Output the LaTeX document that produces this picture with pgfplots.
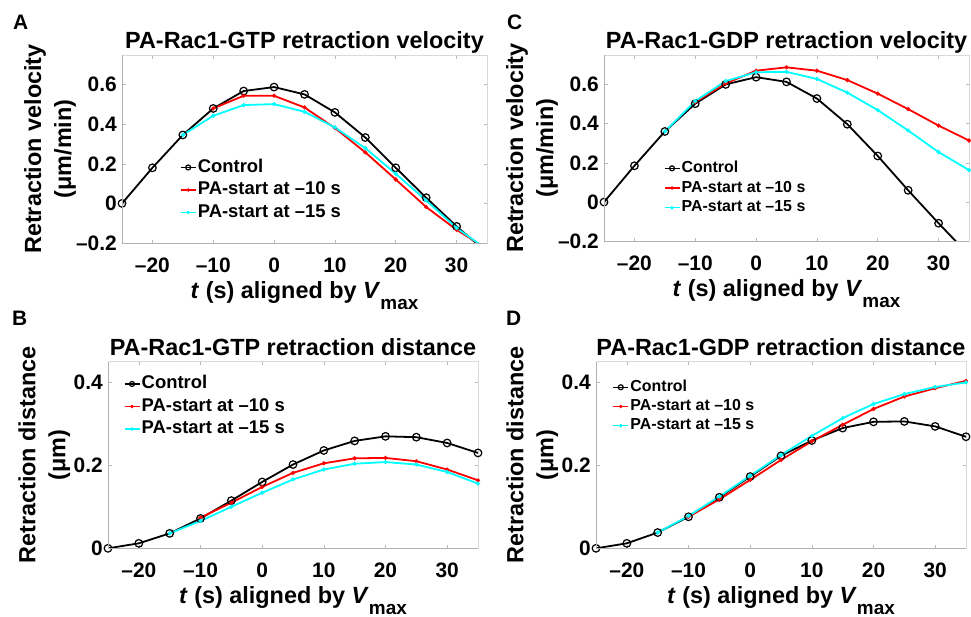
\documentclass[border=0pt]{standalone}
\usepackage{pgfplots}
\pgfplotsset{compat=1.18}
\usepackage{fontspec}
\setmainfont{Liberation Sans}
\definecolor{mred}{rgb}{1,0,0}
\definecolor{mcyan}{rgb}{0,1,1}
\pgfplotsset{
  every axis title shift=0pt,
  panel/.style={
    scale only axis,
    xmin=-25, xmax=35,
    xtick={-20,-10,0,10,20,30},
    xticklabels={–20,–10,0,10,20,30},
    axis line style={gray!30, line width=0.6bp},
    tick style={gray!55, line width=0.6bp},
    major tick length=3.5bp,
    tick align=inside,
    tick label style={font=\fontsize{21}{25}\selectfont\bfseries},
    xticklabel style={anchor=north, inner sep=0pt, text height=15bp, text depth=0pt, yshift=-14bp},
    yticklabel style={anchor=east, inner sep=0pt, xshift=-5bp},
    title style={at={(rel axis cs:0.5,1)}, anchor=base, yshift=6.5bp, inner sep=0pt, font=\fontsize{23.5}{28}\selectfont\bfseries},
    xlabel={\textit{t} (s) aligned by \textit{V}\raisebox{-11.5bp}{\fontsize{19}{20}\selectfont max}},
    xlabel style={at={(rel axis cs:0.5,0)}, anchor=base, yshift=-55bp, inner sep=0pt, font=\fontsize{23.5}{28}\selectfont\bfseries},
    after end axis/.code={\draw[gray!60, line width=0.6bp] (rel axis cs:0,1) -- (rel axis cs:0,0) -- (rel axis cs:1,0);},
    legend cell align=left,
    legend image code/.code={
      \draw[#1, mark indices={2}, line width=1.3bp] plot coordinates {(0bp,0bp) (7.5bp,0bp) (15bp,0bp)};
    },
  },
  ylab/.style={every axis y label/.style={at={(rel axis cs:#1,0.5)}, rotate=90, anchor=center, align=center, inner sep=0pt, font=\fontsize{23.5}{30}\selectfont\bfseries}},
  leg/.style n args={4}{legend style={at={(rel axis cs:#1,#2)}, anchor=west, draw=none, fill=none, inner sep=0pt, outer sep=0pt, row sep=#4, column sep=1.5bp, font=\fontsize{#3}{#3}\selectfont\bfseries, nodes={inner sep=0pt, text height=0.72*#3 bp, text depth=0.2*#3 bp}}},
  ctrl/.style={black, line width=1.8bp, mark=o, mark size=3.8bp, mark options={line width=1.2bp}, legend image post style={mark size=2.5bp}},
  redl/.style={mred, line width=1.8bp, mark=*, mark size=1bp},
  cyanl/.style={mcyan, line width=1.8bp, mark=*, mark size=1bp},
}
\begin{document}
\begin{tikzpicture}
\useasboundingbox (0,0) rectangle (971bp,-617bp);
% Panel A
\begin{axis}[panel, at={(122bp,-243bp)}, anchor=south west, width=365bp, height=188bp,
  ymin=-0.2, ymax=0.75, ytick={-0.2,0,0.2,0.4,0.6}, yticklabels={–0.2,0,0.2,0.4,0.6},
  title={PA-Rac1-GTP retraction velocity},
  ylab=-0.197, ylabel={Retraction velocity\\(μm/min)},
  leg={0.159}{0.282}{18.5}{5.5bp}]
\addplot[ctrl, mark indices={1,2,3,4,5,6,7,8,9,10,11,12}] coordinates {(-25,0) (-20,0.18) (-15,0.346) (-10,0.48) (-5,0.568) (0,0.588) (5,0.551) (10,0.46) (15,0.333) (20,0.18) (25,0.029) (30,-0.116) (35,-0.247)};
\addlegendentry{Control}
\addplot[redl, mark indices={1,2,3,4,5,6,7,8,9}] coordinates {(-10,0.48) (-5,0.544) (0,0.544) (5,0.485) (10,0.381) (15,0.258) (20,0.121) (25,-0.018) (30,-0.133) (35,-0.23)};
\addlegendentry{PA-start at –10 s}
\addplot[cyanl, mark indices={1,2,3,4,5,6,7,8,9,10}] coordinates {(-15,0.346) (-10,0.443) (-5,0.497) (0,0.502) (5,0.463) (10,0.384) (15,0.279) (20,0.15) (25,0.015) (30,-0.124) (35,-0.233)};
\addlegendentry{PA-start at –15 s}
\end{axis}
% Panel C
\begin{axis}[panel, at={(604bp,-241.3bp)}, anchor=south west, width=365bp, height=186.3bp,
  ymin=-0.2, ymax=0.75, ytick={-0.2,0,0.2,0.4,0.6}, yticklabels={–0.2,0,0.2,0.4,0.6},
  title={PA-Rac1-GDP retraction velocity},
  ylab=-0.197, ylabel={Retraction velocity\\(μm/min)},
  leg={0.164}{0.286}{16}{5bp}]
\addplot[ctrl, mark indices={1,2,3,4,5,6,7,8,9,10,11,12}] coordinates {(-25,0) (-20,0.185) (-15,0.36) (-10,0.502) (-5,0.6) (0,0.637) (5,0.613) (10,0.528) (15,0.397) (20,0.235) (25,0.06) (30,-0.108) (35,-0.27)};
\addlegendentry{Control}
\addplot[redl] coordinates {(-10,0.51) (-5,0.605) (0,0.67) (5,0.687) (10,0.67) (15,0.622) (20,0.553) (25,0.474) (30,0.39) (35,0.314)};
\addlegendentry{PA-start at –10 s}
\addplot[cyanl] coordinates {(-15,0.36) (-10,0.515) (-5,0.617) (0,0.662) (5,0.664) (10,0.628) (15,0.558) (20,0.469) (25,0.365) (30,0.255) (35,0.163)};
\addlegendentry{PA-start at –15 s}
\end{axis}
% Panel B
\begin{axis}[panel, at={(108bp,-548.3bp)}, anchor=south west, width=370bp, height=186.6bp,
  ymin=0, ymax=0.45, ytick={0,0.2,0.4}, yticklabels={0,0.2,0.4},
  title={PA-Rac1-GTP retraction distance},
  ylab=-0.172, ylabel={Retraction distance\\(μm)},
  leg={0.043}{0.76}{18.5}{5.5bp}]
\addplot[ctrl] coordinates {(-25,0) (-20,0.012) (-15,0.036) (-10,0.072) (-5,0.115) (0,0.16) (5,0.202) (10,0.236) (15,0.259) (20,0.27) (25,0.268) (30,0.254) (35,0.23)};
\addlegendentry{Control}
\addplot[redl] coordinates {(-10,0.074) (-5,0.11) (0,0.148) (5,0.182) (10,0.205) (15,0.217) (20,0.218) (25,0.21) (30,0.19) (35,0.164)};
\addlegendentry{PA-start at –10 s}
\addplot[cyanl] coordinates {(-15,0.036) (-10,0.066) (-5,0.1) (0,0.134) (5,0.166) (10,0.19) (15,0.204) (20,0.208) (25,0.202) (30,0.184) (35,0.156)};
\addlegendentry{PA-start at –15 s}
\end{axis}
% Panel D
\begin{axis}[panel, at={(596bp,-548.3bp)}, anchor=south west, width=370bp, height=186.6bp,
  ymin=0, ymax=0.45, ytick={0,0.2,0.4}, yticklabels={0,0.2,0.4},
  title={PA-Rac1-GDP retraction distance},
  ylab=-0.172, ylabel={Retraction distance\\(μm)},
  leg={0.045}{0.76}{16}{4.5bp}]
\addplot[ctrl] coordinates {(-25,0) (-20,0.012) (-15,0.038) (-10,0.076) (-5,0.123) (0,0.173) (5,0.223) (10,0.26) (15,0.29) (20,0.305) (25,0.306) (30,0.294) (35,0.269)};
\addlegendentry{Control}
\addplot[redl] coordinates {(-10,0.076) (-5,0.118) (0,0.165) (5,0.213) (10,0.258) (15,0.298) (20,0.336) (25,0.366) (30,0.386) (35,0.404)};
\addlegendentry{PA-start at –10 s}
\addplot[cyanl] coordinates {(-15,0.038) (-10,0.078) (-5,0.125) (0,0.175) (5,0.225) (10,0.271) (15,0.314) (20,0.348) (25,0.372) (30,0.389) (35,0.4)};
\addlegendentry{PA-start at –15 s}
\end{axis}
\node[anchor=base west, inner sep=0pt, font=\fontsize{21}{22}\selectfont\bfseries] at (13bp,-29bp) {A};
\node[anchor=base west, inner sep=0pt, font=\fontsize{21}{22}\selectfont\bfseries] at (507bp,-29bp) {C};
\node[anchor=base west, inner sep=0pt, font=\fontsize{21}{22}\selectfont\bfseries] at (12bp,-325bp) {B};
\node[anchor=base west, inner sep=0pt, font=\fontsize{21}{22}\selectfont\bfseries] at (506bp,-325bp) {D};
\end{tikzpicture}
\end{document}
